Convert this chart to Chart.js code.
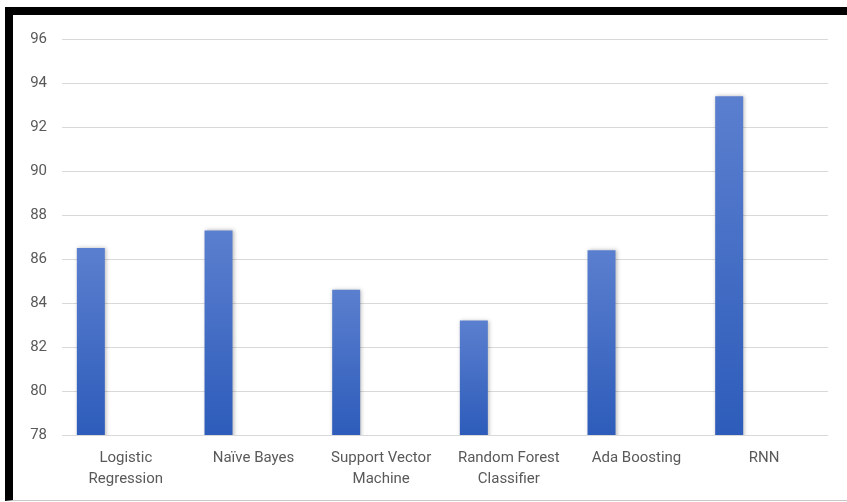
<!DOCTYPE html>
<html>
<head>
<meta charset="utf-8">
<script src="https://cdn.jsdelivr.net/npm/chart.js@4.4.0/dist/chart.umd.min.js"></script>
<style>
  html, body { margin: 0; padding: 0; background: #fff; }
  body { width: 847px; height: 502px; position: relative; overflow: hidden; }
  #frame {
    position: absolute; left: 5px; top: 7px; width: 850px; height: 494px;
    border-top: 8px solid #000; border-left: 8px solid #000;
    border-bottom: 1px solid #c8c8c8; box-sizing: border-box;
  }
  #wrap { position: absolute; left: 13px; top: 15px; width: 834px; height: 484px; }
</style>
</head>
<body>
<div id="frame"></div>
<div id="wrap"><canvas id="chart"></canvas></div>
<script>
const categories = [
  ["Logistic", "Regression"],
  "Naïve Bayes",
  ["Support Vector", "Machine"],
  ["Random Forest", "Classifier"],
  "Ada Boosting",
  "RNN"
];
const accuracy = [86.5, 87.3, 84.6, 83.2, 86.4, 93.4];
// the original Excel chart leaves two empty series after the accuracy one,
// which is why each bar sits left of its label
const emptySeries = categories.map(() => null);

const FONT = "Roboto, 'Open Sans', sans-serif";
const TEXT = "#595959";

// per-bar vertical gradient, light blue at the top, darker at the base
function barGradient(context) {
  const chart = context.chart;
  const {ctx, chartArea, scales} = chart;
  if (!chartArea || context.parsed == null) return "#3f6cc6";
  const top = scales.y.getPixelForValue(context.parsed.y);
  const g = ctx.createLinearGradient(0, top, 0, chartArea.bottom);
  g.addColorStop(0, "#5b7fcf");
  g.addColorStop(1, "#2d5cba");
  return g;
}

const barShadow = {
  id: "barShadow",
  beforeDatasetDraw(chart) {
    const ctx = chart.ctx;
    ctx.save();
    ctx.shadowColor = "rgba(0,0,0,0.28)";
    ctx.shadowBlur = 4;
    ctx.shadowOffsetX = 1;
    ctx.shadowOffsetY = 0;
  },
  afterDatasetDraw(chart) {
    chart.ctx.restore();
  }
};

new Chart(document.getElementById("chart"), {
  type: "bar",
  data: {
    labels: categories,
    datasets: [
      {label: "Accuracy", data: accuracy, backgroundColor: barGradient, borderWidth: 0},
      {label: "", data: emptySeries},
      {label: "", data: emptySeries}
    ]
  },
  options: {
    responsive: true,
    maintainAspectRatio: false,
    animation: false,
    categoryPercentage: 0.822,
    barPercentage: 0.8,
    layout: {padding: {top: 21, right: 19, left: 0, bottom: 0}},
    plugins: {
      legend: {display: false},
      tooltip: {enabled: false}
    },
    scales: {
      x: {
        grid: {display: false, drawTicks: false},
        border: {display: false},
        ticks: {
          color: TEXT,
          font: {family: FONT, size: 15, lineHeight: 1.45},
          padding: 12,
          maxRotation: 0,
          autoSkip: false
        },
        afterFit(scale) { scale.height = 64; }
      },
      y: {
        min: 78,
        max: 96,
        grid: {color: "#d9d9d9", lineWidth: 1, drawTicks: false},
        border: {display: false},
        ticks: {
          stepSize: 2,
          color: TEXT,
          font: {family: FONT, size: 15},
          padding: 15
        },
        afterFit(scale) { scale.width = 49; }
      }
    }
  },
  plugins: [barShadow]
});
</script>
</body>
</html>
